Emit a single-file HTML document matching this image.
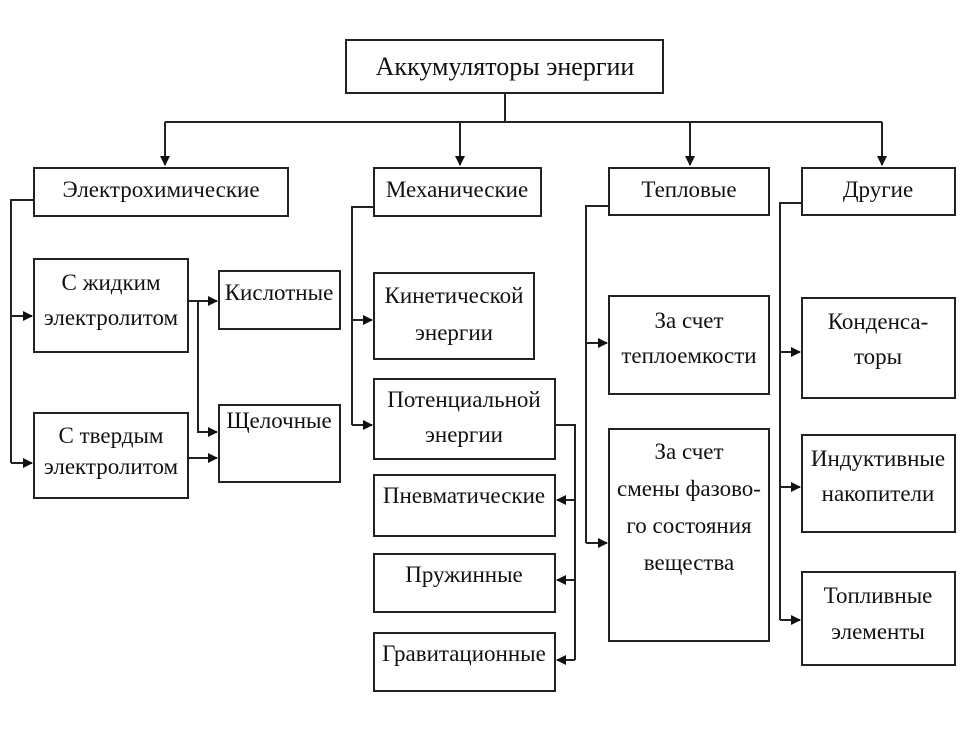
<!DOCTYPE html>
<html><head><meta charset="utf-8"><style>
html,body{margin:0;padding:0;background:#fff;width:974px;height:730px;overflow:hidden}
svg text{font-family:"Liberation Serif",serif;font-size:23px;fill:#111;text-anchor:middle}
</style></head><body>
<svg width="974" height="730" viewBox="0 0 974 730" xmlns="http://www.w3.org/2000/svg">
<defs><marker id="a" viewBox="0 0 10 10" refX="9" refY="5" markerWidth="5" markerHeight="5" orient="auto"><path d="M0,0L10,5L0,10z" fill="#111"/></marker></defs>
<g fill="none" stroke="#222" stroke-width="2">
<rect x="346" y="40" width="317" height="53"/>
<rect x="34" y="168" width="254" height="48"/>
<rect x="374" y="168" width="167" height="48"/>
<rect x="609" y="168" width="160" height="47"/>
<rect x="802" y="168" width="153" height="47"/>
<rect x="34" y="259" width="154" height="93"/>
<rect x="34" y="413" width="154" height="85"/>
<rect x="219" y="271" width="121" height="58"/>
<rect x="219" y="405" width="121" height="77"/>
<rect x="374" y="273" width="160" height="86"/>
<rect x="374" y="379" width="181" height="80"/>
<rect x="374" y="475" width="181" height="61"/>
<rect x="374" y="554" width="181" height="58"/>
<rect x="374" y="633" width="181" height="58"/>
<rect x="609" y="296" width="160" height="98"/>
<rect x="609" y="429" width="160" height="212"/>
<rect x="802" y="298" width="153" height="100"/>
<rect x="802" y="435" width="153" height="97"/>
<rect x="802" y="572" width="153" height="93"/>
</g>
<g fill="none" stroke="#222" stroke-width="2">
<path d="M505 93V122M165 122H882"/>
<path d="M165 122V165" marker-end="url(#a)"/>
<path d="M460 122V165" marker-end="url(#a)"/>
<path d="M690 122V165" marker-end="url(#a)"/>
<path d="M882 122V165" marker-end="url(#a)"/>
<path d="M34 200H11V463"/>
<path d="M11 316H32" marker-end="url(#a)"/>
<path d="M11 463H32" marker-end="url(#a)"/>
<path d="M188 301H217" marker-end="url(#a)"/>
<path d="M198 301V432H217" marker-end="url(#a)"/>
<path d="M188 458H217" marker-end="url(#a)"/>
<path d="M374 207H352V425"/>
<path d="M352 320H372" marker-end="url(#a)"/>
<path d="M352 425H372" marker-end="url(#a)"/>
<path d="M556 425H575V660"/>
<path d="M575 500H557" marker-end="url(#a)"/>
<path d="M575 580H557" marker-end="url(#a)"/>
<path d="M575 660H557" marker-end="url(#a)"/>
<path d="M609 206H586V543"/>
<path d="M586 343H607" marker-end="url(#a)"/>
<path d="M586 543H607" marker-end="url(#a)"/>
<path d="M802 203H780V620"/>
<path d="M780 352H800" marker-end="url(#a)"/>
<path d="M780 487H800" marker-end="url(#a)"/>
<path d="M780 620H800" marker-end="url(#a)"/>
</g>
<text x="505" y="75" style="font-size:26px">Аккумуляторы энергии</text>
<text x="161" y="197">Электрохимические</text>
<text x="457" y="197">Механические</text>
<text x="689" y="197">Тепловые</text>
<text x="878" y="197">Другие</text>
<text x="111" y="290">С жидким</text>
<text x="111" y="325">электролитом</text>
<text x="111" y="443">С твердым</text>
<text x="111" y="474">электролитом</text>
<text x="279" y="300">Кислотные</text>
<text x="279" y="428">Щелочные</text>
<text x="454" y="303">Кинетической</text>
<text x="454" y="340">энергии</text>
<text x="464" y="407">Потенциальной</text>
<text x="464" y="442">энергии</text>
<text x="464" y="503">Пневматические</text>
<text x="464" y="582">Пружинные</text>
<text x="464" y="661">Гравитационные</text>
<text x="689" y="328">За счет</text>
<text x="689" y="363">теплоемкости</text>
<text x="689" y="459">За счет</text>
<text x="689" y="496">смены фазово-</text>
<text x="689" y="533">го состояния</text>
<text x="689" y="570">вещества</text>
<text x="878" y="329">Конденса-</text>
<text x="878" y="364">торы</text>
<text x="878" y="466">Индуктивные</text>
<text x="878" y="501">накопители</text>
<text x="878" y="603">Топливные</text>
<text x="878" y="639">элементы</text>
</svg>
</body></html>
